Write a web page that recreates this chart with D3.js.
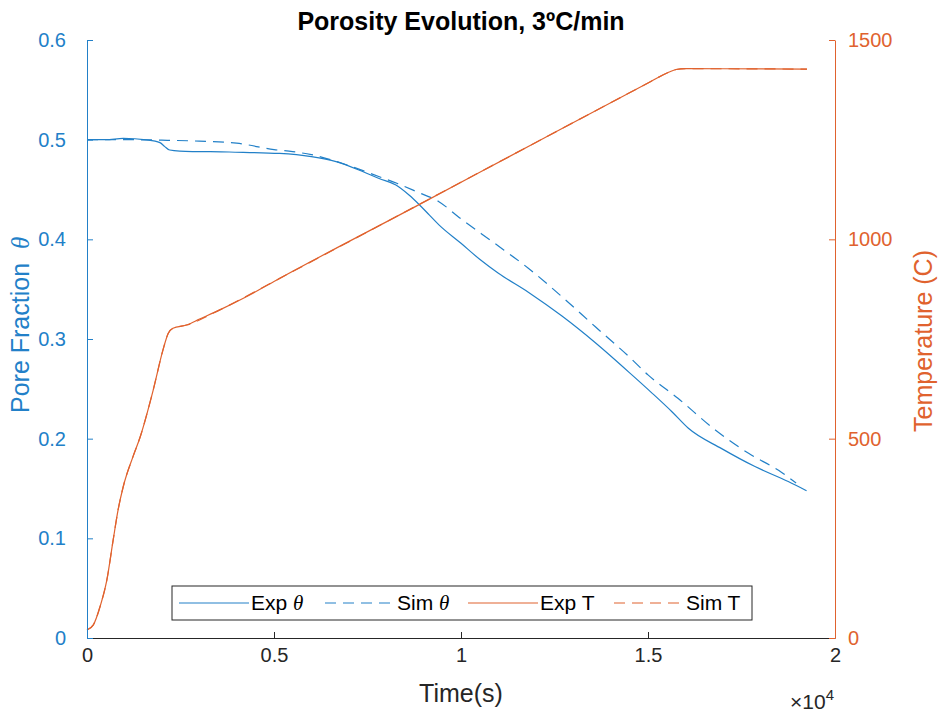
<!DOCTYPE html>
<html>
<head>
<meta charset="utf-8">
<script src="https://cdn.jsdelivr.net/npm/d3@7"></script>
<style>
  body { margin: 0; background: #fff; }
  text { font-family: "Liberation Sans", Arial, Helvetica, sans-serif; }
</style>
</head>
<body>
<div id="chart"></div>
<script>
// time in units of 1e4 s
var expThetaTime = [0, 0.05, 0.097, 0.159, 0.195, 0.208, 0.221, 0.248, 0.38, 0.515, 0.6, 0.666, 0.737, 0.781, 0.826, 0.861, 0.888, 0.915, 0.941, 1.0, 1.05, 1.1, 1.18, 1.27, 1.36, 1.46, 1.51, 1.564, 1.608, 1.697, 1.786, 1.875, 1.924];
var expTheta = [0.5, 0.5, 0.5012, 0.4997, 0.497, 0.493, 0.4896, 0.4886, 0.4876, 0.4862, 0.483, 0.478, 0.468, 0.461, 0.4545, 0.4445, 0.435, 0.4245, 0.4145, 0.396, 0.38, 0.366, 0.347, 0.323, 0.296, 0.263, 0.246, 0.227, 0.2104, 0.19, 0.172, 0.157, 0.1478];

var simThetaTime = [0, 0.1, 0.2, 0.3, 0.4, 0.5, 0.55, 0.6, 0.7, 0.78, 0.83, 0.88, 0.94, 1.0, 1.09, 1.18, 1.27, 1.36, 1.45, 1.5, 1.58, 1.68, 1.77, 1.85, 1.896];
var simTheta = [0.5, 0.5, 0.4995, 0.4985, 0.4965, 0.49, 0.488, 0.485, 0.474, 0.463, 0.456, 0.448, 0.438, 0.4205, 0.396, 0.371, 0.3424, 0.312, 0.282, 0.264, 0.2405, 0.2087, 0.185, 0.168, 0.1555];

var expTTime = [0, 0.017, 0.035, 0.053, 0.07, 0.083, 0.097, 0.123, 0.141, 0.177, 0.203, 0.217, 0.23, 0.266, 0.301, 0.355, 0.426, 0.515, 0.888, 1.2, 1.5, 1.555, 1.575, 1.6, 1.925];
var expT = [20, 33, 79, 145, 246, 321, 380, 455, 501, 622, 722, 764, 777, 785, 800, 823, 856, 902, 1087, 1243, 1392, 1419, 1426, 1428, 1427];

var simTTime = [0, 0.017, 0.035, 0.053, 0.07, 0.083, 0.097, 0.123, 0.141, 0.177, 0.203, 0.217, 0.23, 0.266, 0.355, 0.515, 1.2, 1.5, 1.555, 1.575, 1.6, 1.925];
var simT = [20, 33, 79, 145, 246, 321, 380, 455, 501, 622, 722, 764, 777, 785, 823, 902, 1243, 1392, 1419, 1426, 1428, 1427];

var leftTicks = [0, 0.1, 0.2, 0.3, 0.4, 0.5, 0.6];
var rightTicks = [0, 500, 1000, 1500];
var xTicks = [0, 0.5, 1, 1.5, 2];

var blue = "#2280c8", orange = "#e0622e", dark = "#262626";

var W = 938, H = 713;
var margin = { top: 40, right: 103, bottom: 75, left: 87 };
var width = W - margin.left - margin.right,
    height = H - margin.top - margin.bottom;

var svg = d3.select("#chart")
  .append("svg")
  .attr("width", W)
  .attr("height", H);

var g = svg.append("g")
  .attr("transform", "translate(" + margin.left + "," + margin.top + ")");

// scales
var x = d3.scaleLinear().domain([0, 2]).range([0, width]);
var yL = d3.scaleLinear().domain([0, 0.6]).range([height, 0]);
var yR = d3.scaleLinear().domain([0, 1500]).range([height, 0]);

function zip(a, b) {
  return a.map(function (d, i) { return [d, b[i]]; });
}

var lineL = d3.line()
  .x(function (d) { return x(d[0]); })
  .y(function (d) { return yL(d[1]); })
  .curve(d3.curveMonotoneX);
var lineR = d3.line()
  .x(function (d) { return x(d[0]); })
  .y(function (d) { return yR(d[1]); })
  .curve(d3.curveMonotoneX);

// series
g.append("path").datum(zip(expThetaTime, expTheta))
  .attr("d", lineL).attr("fill", "none").attr("stroke", blue).attr("stroke-width", 1.2);
g.append("path").datum(zip(simThetaTime, simTheta))
  .attr("d", lineL).attr("fill", "none").attr("stroke", blue).attr("stroke-width", 1.2)
  .attr("stroke-dasharray", "11,7");
g.append("path").datum(zip(expTTime, expT))
  .attr("d", lineR).attr("fill", "none").attr("stroke", orange).attr("stroke-width", 1.2);
g.append("path").datum(zip(simTTime, simT))
  .attr("d", lineR).attr("fill", "none").attr("stroke", orange).attr("stroke-width", 1.2)
  .attr("stroke-dasharray", "11,7");

// axes
var xAxis = g.append("g")
  .attr("transform", "translate(0," + height + ")")
  .call(d3.axisBottom(x).tickValues(xTicks).tickSizeInner(-6).tickSizeOuter(0).tickPadding(10)
    .tickFormat(d3.format("")));
xAxis.select(".domain").attr("stroke", dark);
xAxis.selectAll("line").attr("stroke", dark);
xAxis.selectAll("text").attr("fill", dark).style("font-size", "20px");

var leftAxis = g.append("g")
  .call(d3.axisLeft(yL).tickValues(leftTicks).tickSizeInner(-6).tickSizeOuter(0).tickPadding(21)
    .tickFormat(d3.format("")));
leftAxis.select(".domain").attr("stroke", blue);
leftAxis.selectAll("line").attr("stroke", blue);
leftAxis.selectAll("text").attr("fill", blue).style("font-size", "20px");

var rightAxis = g.append("g")
  .attr("transform", "translate(" + width + ",0)")
  .call(d3.axisRight(yR).tickValues(rightTicks).tickSizeInner(-6).tickSizeOuter(0).tickPadding(13)
    .tickFormat(d3.format("d")));
rightAxis.select(".domain").attr("stroke", orange);
rightAxis.selectAll("line").attr("stroke", orange);
rightAxis.selectAll("text").attr("fill", orange).style("font-size", "20px");

// title and labels
svg.append("text")
  .attr("x", margin.left + width / 2).attr("y", 30)
  .attr("text-anchor", "middle")
  .style("font-size", "25px").style("font-weight", "bold")
  .attr("fill", "#000")
  .text("Porosity Evolution, 3ºC/min");

svg.append("text")
  .attr("x", margin.left + width / 2).attr("y", 702)
  .attr("text-anchor", "middle")
  .style("font-size", "25px").attr("fill", dark)
  .text("Time(s)");

var ex = svg.append("text")
  .attr("x", 834).attr("y", 709)
  .attr("text-anchor", "end")
  .style("font-size", "21px").attr("fill", dark);
ex.append("tspan").text("×10");
ex.append("tspan").attr("dy", -9).style("font-size", "15px").text("4");

var yl = svg.append("text")
  .attr("transform", "translate(29,413) rotate(-90)")
  .attr("text-anchor", "start")
  .style("font-size", "25px").attr("fill", blue);
yl.append("tspan").text("Pore Fraction");
yl.append("tspan").attr("dx", 14).style("font-family", "'Liberation Serif', serif").style("font-style", "italic").text("θ");

svg.append("text")
  .attr("transform", "translate(932,341) rotate(-90)")
  .attr("text-anchor", "middle")
  .style("font-size", "25px").attr("fill", orange)
  .text("Temperature (C)");

// legend
var legendItems = [
  { name: "Exp ", sym: "θ", color: blue, dash: null, x0: 7 },
  { name: "Sim ", sym: "θ", color: blue, dash: "11,7", x0: 153 },
  { name: "Exp T", sym: "", color: orange, dash: null, x0: 296 },
  { name: "Sim T", sym: "", color: orange, dash: "11,7", x0: 442 }
];
var legend = svg.append("g").attr("transform", "translate(172,586)");
legend.append("rect")
  .attr("width", 580).attr("height", 34)
  .attr("fill", "#fff").attr("stroke", dark).attr("stroke-width", 1);
legendItems.forEach(function (d) {
  legend.append("line")
    .attr("x1", d.x0).attr("x2", d.x0 + 70)
    .attr("y1", 17).attr("y2", 17)
    .attr("stroke", d.color).attr("stroke-width", 1.2)
    .attr("stroke-dasharray", d.dash);
  var t = legend.append("text")
    .attr("x", d.x0 + 72).attr("y", 24)
    .style("font-size", "21px").attr("fill", "#000");
  t.append("tspan").text(d.name);
  if (d.sym) {
    t.append("tspan").style("font-family", "'Liberation Serif', serif").style("font-style", "italic").text(d.sym);
  }
});
</script>
</body>
</html>
